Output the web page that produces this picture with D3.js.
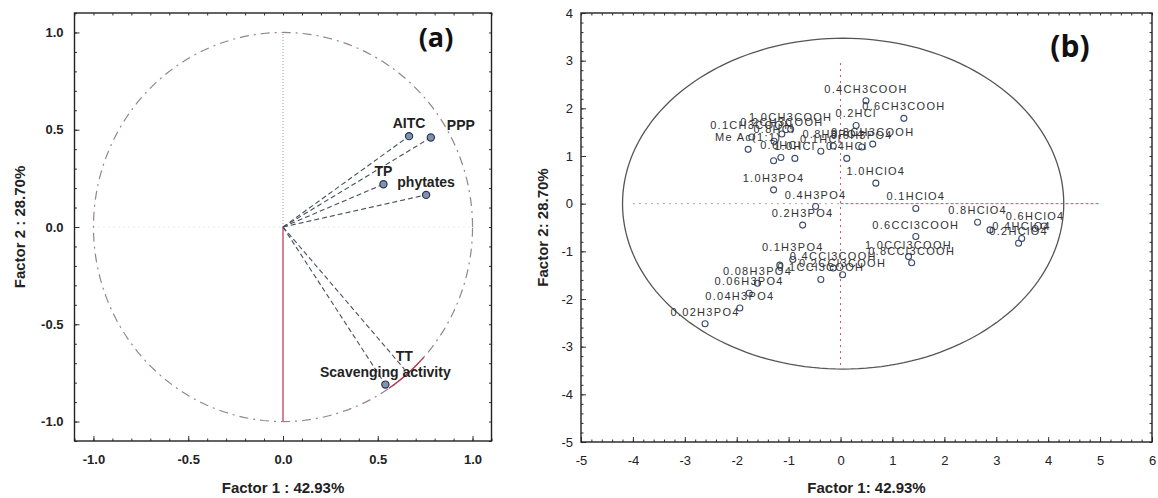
<!DOCTYPE html>
<html>
<head>
<meta charset="utf-8">
<title>PCA loadings and scores</title>
<script src="https://cdn.jsdelivr.net/npm/d3@7"></script>
<style>
    body { margin: 0; background: #fff; }
    svg { display: block; font-family: "Liberation Sans", Arial, sans-serif; }
    .frame { fill: none; stroke: #222; stroke-width: 1.4px; }
    .tick line { stroke: #333; stroke-width: 1px; }
    .axisA text { font-size: 13px; font-weight: bold; fill: #222; font-family: "Liberation Sans", Arial, sans-serif; }
    .axisB text { font-size: 13px; fill: #222; font-family: "Liberation Sans", Arial, sans-serif; }
    .title { font-size: 15px; font-weight: bold; fill: #222; }
    .panel { font-family: "Open Sans", sans-serif; font-weight: bold; fill: #111; }
    .varLabel { font-size: 14px; font-weight: bold; fill: #222; }
    .obsLabel { font-size: 11px; letter-spacing: 1.3px; fill: #333; }
</style>
</head>
<body>
<svg width="1158" height="498"></svg>
<script>
    // (a) variables: loadings on factor 1 / factor 2
    const varNames = ["AITC", "PPP", "TP", "phytates", "TT", "Scavenging activity"];
    const varF1 = [0.665, 0.78, 0.53, 0.755, 0.64, 0.54];
    const varF2 = [0.467, 0.46, 0.22, 0.165, -0.73, -0.81];

    // (b) cases: scores on factor 1 / factor 2
    const caseNames = [
        "0.4CH3COOH", "0.6CH3COOH", "0.2HCl", "1.0CH3COOH", "0.1CH3COOH", "0.2CH3COOH",
        "0.8CH3COOH", "0.8H3PO4", "0.6H3PO4", "Me Ac(1:1)", "0.8HCl", "0.6HCl",
        "1.0HCl", "0.1HCl", "0.4HCl", "", "1.0HClO4", "1.0H3PO4", "0.4H3PO4", "0.2H3PO4",
        "0.1HClO4", "0.8HClO4", "0.6CCl3COOH", "1.0CCl3COOH", "0.8CCl3COOH",
        "", "0.2HClO4", "0.4HClO4", "0.6HClO4", "",
        "0.02H3PO4", "0.04H3PO4", "0.06H3PO4", "0.08H3PO4", "0.1H3PO4",
        "0.4CCl3COOH", "0.2CCl3COOH", "0.1CCl3COOH", ""
    ];
    const caseF1 = [
        0.49, 1.22, 0.30, -0.96, -1.71, -1.13,
        0.62, -0.14, 0.41, -1.78, -1.28, -1.15,
        -0.88, -0.38, 0.12, -1.29, 0.68, -1.29, -0.48, -0.73,
        1.45, 2.64, 1.45, 1.31, 1.37,
        2.88, 3.43, 3.49, 3.75, 3.92,
        -2.61, -1.94, -1.76, -1.60, -0.92,
        -0.14, 0.04, -0.38, -1.17
    ];
    const caseF2 = [
        2.16, 1.79, 1.64, 1.56, 1.40, 1.46,
        1.25, 1.21, 1.19, 1.14, 1.31, 0.97,
        0.95, 1.10, 0.95, 0.90, 0.43, 0.29, -0.06, -0.45,
        -0.10, -0.39, -0.69, -1.11, -1.24,
        -0.55, -0.83, -0.73, -0.52, -0.47,
        -2.52, -2.19, -1.88, -1.67, -1.17,
        -1.35, -1.49, -1.59, -1.29
    ];
    // confidence ellipse: centre f1, centre f2, radius f1, radius f2
    const ellipseB = [0.05, 0, 4.25, 3.47];

    const ticksA = [-1.0, -0.5, 0.0, 0.5, 1.0];
    const ticksBx = [-5, -4, -3, -2, -1, 0, 1, 2, 3, 4, 5, 6];
    const ticksBy = [-5, -4, -3, -2, -1, 0, 1, 2, 3, 4];
    const titlesA = ["Factor 1 : 42.93%", "Factor 2 : 28.70%", "(a)"];
    const titlesB = ["Factor 1: 42.93%", "Factor 2: 28.70%", "(b)"];

    // label nudges (pixels) for panel (a)
    const nudgeA = {"PPP": 30};

    let svg = d3.select("svg");

    // scales
    let ax = d3.scaleLinear().domain([-1.1, 1.1]).range([74.5, 491.5]);
    let ay = d3.scaleLinear().domain([-1.1, 1.1]).range([441, 13]);
    let bx = d3.scaleLinear().domain([-5, 6]).range([581, 1152]);
    let by = d3.scaleLinear().domain([-5, 4]).range([442, 13]);

    // frame with inward ticks on all four sides
    function frame(cls, x, y, majX, majY, minX, minY, fmt, padX, padY) {
        let g = svg.append("g").attr("class", cls);
        let [x0, x1] = x.range(), [y0, y1] = y.range();
        const drop = s => s.select(".domain").remove();
        g.append("g").attr("transform", `translate(0,${y0})`)
            .call(d3.axisBottom(x).tickValues(majX).tickSize(-5).tickPadding(padX).tickFormat(fmt)).call(drop);
        g.append("g").attr("transform", `translate(0,${y0})`)
            .call(d3.axisBottom(x).tickValues(minX).tickSize(-2.5).tickFormat("")).call(drop);
        g.append("g").attr("transform", `translate(0,${y1})`)
            .call(d3.axisTop(x).tickValues(minX).tickSize(-2.5).tickFormat("")).call(drop);
        g.append("g").attr("transform", `translate(${x0},0)`)
            .call(d3.axisLeft(y).tickValues(majY).tickSize(-5).tickPadding(padY).tickFormat(fmt)).call(drop);
        g.append("g").attr("transform", `translate(${x0},0)`)
            .call(d3.axisLeft(y).tickValues(minY).tickSize(-2.5).tickFormat("")).call(drop);
        g.append("g").attr("transform", `translate(${x1},0)`)
            .call(d3.axisRight(y).tickValues(minY).tickSize(-2.5).tickFormat("")).call(drop);
        g.append("rect").attr("class", "frame")
            .attr("x", x0).attr("y", y1).attr("width", x1 - x0).attr("height", y0 - y1);
        g.selectAll(".tick text").attr("fill", "#222");
    }

    //*****************************
    // Panel (a)
    frame("axisA", ax, ay, ticksA, ticksA,
        d3.range(-11, 12).map(i => i / 10), d3.range(-11, 12).map(i => i / 10),
        d => d.toFixed(1), 14, 11);

    let lineA = d3.line().x(d => ax(d[0])).y(d => ay(d[1]));
    let unit = d3.range(0, 361, 2).map(a => [Math.cos(a * Math.PI / 180), Math.sin(a * Math.PI / 180)]);

    // reference lines
    svg.append("path").attr("d", lineA([[-1, 0], [1, 0]]))
        .attr("stroke", "#d4d4d4").attr("stroke-dasharray", "1,4").attr("fill", "none");
    svg.append("path").attr("d", lineA([[0, 0], [0, 1]]))
        .attr("stroke", "#999").attr("stroke-dasharray", "1,2").attr("fill", "none");
    svg.append("path").attr("d", lineA([[0, 0], [0, -1]]))
        .attr("stroke", "#c2506a").attr("stroke-width", 1.4).attr("fill", "none");

    // unit circle
    svg.append("path").attr("d", lineA(unit))
        .attr("fill", "none").attr("stroke", "#948390").attr("stroke-width", 1.2)
        .attr("stroke-dasharray", "9,5,2,5");
    svg.append("path").attr("d", lineA(unit.filter(p => p[1] < -0.66 && p[0] > 0.55)))
        .attr("fill", "none").attr("stroke", "#b8384e").attr("stroke-width", 1.4);

    // vectors
    let vars = varNames.map((n, i) => ({name: n, x: varF1[i], y: varF2[i]}));
    svg.append("g").selectAll("path").data(vars).enter().append("path")
        .attr("d", d => lineA([[0, 0], [d.x, d.y]]))
        .attr("stroke", "#4a4f60").attr("stroke-width", 1.1)
        .attr("stroke-dasharray", "5,3").attr("fill", "none");
    svg.append("g").selectAll("circle").data(vars.filter(d => d.name !== "TT")).enter().append("circle")
        .attr("cx", d => ax(d.x)).attr("cy", d => ay(d.y)).attr("r", 3.6)
        .attr("fill", "#8191b0").attr("stroke", "#2b3550").attr("stroke-width", 1.2);
    svg.append("g").selectAll("text").data(vars).enter().append("text")
        .attr("class", "varLabel")
        .attr("x", d => ax(d.x) + (nudgeA[d.name] || 0)).attr("y", d => ay(d.y) - 8)
        .attr("text-anchor", "middle")
        .text(d => d.name);

    svg.append("text").attr("class", "title").attr("x", ax(0)).attr("y", 493)
        .attr("text-anchor", "middle").text(titlesA[0]);
    svg.append("text").attr("class", "title")
        .attr("transform", `translate(20,${ay(0)}) rotate(-90)`)
        .attr("text-anchor", "middle").attr("dy", "0.35em").text(titlesA[1]);
    svg.append("text").attr("class", "panel").attr("x", 436).attr("y", 47)
        .attr("text-anchor", "middle").attr("font-size", 27).text(titlesA[2]);

    //*****************************
    // Panel (b)
    frame("axisB", bx, by, ticksBx, ticksBy,
        d3.range(-25, 31).map(i => i / 5), d3.range(-25, 21).map(i => i / 5),
        d => String(d), 14, 8);

    let lineB = d3.line().x(d => bx(d[0])).y(d => by(d[1]));
    svg.append("path").attr("d", lineB([[-4, 0], [0, 0]]))
        .attr("stroke", "#a9a0a8").attr("stroke-dasharray", "2,4").attr("fill", "none");
    svg.append("path").attr("d", lineB([[0, 0], [5, 0]]))
        .attr("stroke", "#c9506c").attr("stroke-dasharray", "3,2").attr("fill", "none");
    svg.append("path").attr("d", lineB([[0, 2.95], [0, -3.45]]))
        .attr("stroke", "#c9506c").attr("stroke-dasharray", "2,4").attr("fill", "none");

    let [ecx, ecy, erx, ery] = ellipseB;
    let ell = d3.range(0, 361, 2).map(a => [ecx + erx * Math.cos(a * Math.PI / 180), ecy + ery * Math.sin(a * Math.PI / 180)]);
    svg.append("path").attr("d", lineB(ell))
        .attr("fill", "none").attr("stroke", "#555").attr("stroke-width", 1.3);

    let cases = caseNames.map((n, i) => ({name: n, x: caseF1[i], y: caseF2[i]}));
    svg.append("g").selectAll("circle").data(cases).enter().append("circle")
        .attr("cx", d => bx(d.x)).attr("cy", d => by(d.y)).attr("r", 3)
        .attr("fill", "none").attr("stroke", "#3d4b6b").attr("stroke-width", 1.1);
    svg.append("g").selectAll("text").data(cases.filter(d => d.name)).enter().append("text")
        .attr("class", "obsLabel")
        .attr("x", d => bx(d.x)).attr("y", d => by(d.y) - 8)
        .attr("text-anchor", "middle")
        .text(d => d.name);

    svg.append("text").attr("class", "title").attr("x", (bx.range()[0] + bx.range()[1]) / 2).attr("y", 493)
        .attr("text-anchor", "middle").text(titlesB[0]);
    svg.append("text").attr("class", "title")
        .attr("transform", `translate(543,${(by.range()[0] + by.range()[1]) / 2}) rotate(-90)`)
        .attr("text-anchor", "middle").attr("dy", "0.35em").text(titlesB[1]);
    svg.append("text").attr("class", "panel").attr("x", 1070).attr("y", 57)
        .attr("text-anchor", "middle").attr("font-size", 30).text(titlesB[2]);
</script>
</body>
</html>
